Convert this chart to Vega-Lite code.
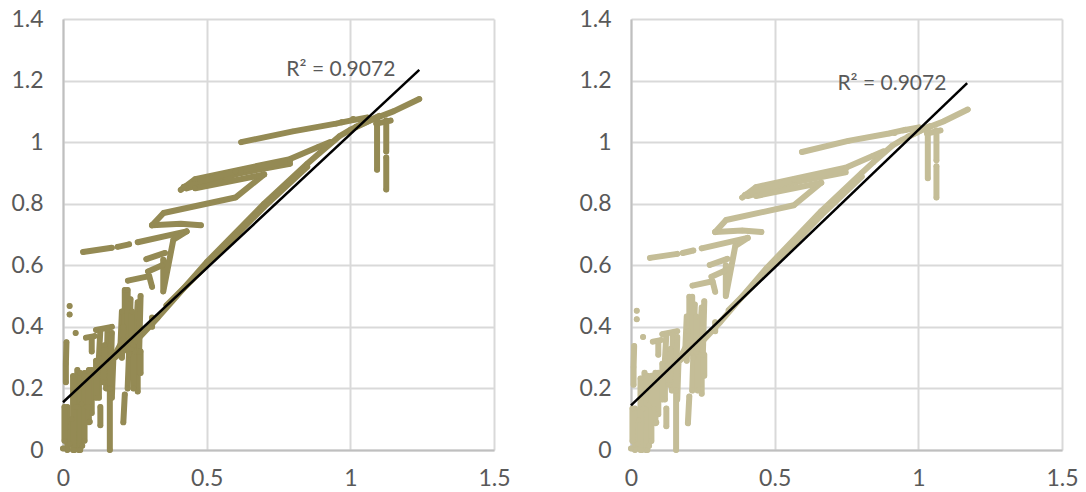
{"$schema":"https://vega.github.io/schema/vega-lite/v6.json","padding":{"left":10,"top":8,"right":0,"bottom":4},"bounds":"flush","spacing":137,"background":"white",
"datasets":{
"L":[
{"s":"a","x":0.62,"y":1.0},{"s":"a","x":0.8,"y":1.035},{"s":"a","x":0.95,"y":1.06},{"s":"a","x":1.0,"y":1.07},{"s":"a","x":1.06,"y":1.08},
{"s":"b","x":0.18,"y":0.3},{"s":"b","x":0.25,"y":0.35},{"s":"b","x":0.33,"y":0.43},{"s":"b","x":0.5,"y":0.61},{"s":"b","x":0.7,"y":0.8},{"s":"b","x":0.85,"y":0.93},{"s":"b","x":0.893,"y":0.965},{"s":"b","x":0.963,"y":1.02},{"s":"b","x":1.0,"y":1.04},{"s":"b","x":1.08,"y":1.075},{"s":"b","x":1.15,"y":1.1},{"s":"b","x":1.24,"y":1.14},
{"s":"b2","x":0.36,"y":0.47},{"s":"b2","x":0.5,"y":0.6},{"s":"b2","x":0.7,"y":0.79},{"s":"b2","x":0.85,"y":0.92},
{"s":"c","x":0.41,"y":0.845},{"s":"c","x":0.46,"y":0.88},{"s":"c","x":0.79,"y":0.945},{"s":"c","x":0.89,"y":0.985},{"s":"c","x":0.93,"y":1.0},
{"s":"d","x":0.43,"y":0.85},{"s":"d","x":0.62,"y":0.9},{"s":"d","x":0.79,"y":0.93},
{"s":"c2","x":0.42,"y":0.855},{"s":"c2","x":0.6,"y":0.905},{"s":"c2","x":0.79,"y":0.94},
{"s":"e1","x":0.31,"y":0.73},{"s":"e1","x":0.41,"y":0.735},{"s":"e1","x":0.48,"y":0.73},
{"s":"e2","x":0.31,"y":0.73},{"s":"e2","x":0.35,"y":0.77},{"s":"e2","x":0.6,"y":0.82},{"s":"e2","x":0.7,"y":0.895},
{"s":"e3","x":0.46,"y":0.85},{"s":"e3","x":0.7,"y":0.895},
{"s":"p1","x":0.07,"y":0.643},{"s":"p1","x":0.17,"y":0.657},{"s":"p2","x":0.19,"y":0.66},{"s":"p2","x":0.23,"y":0.668},{"s":"p3","x":0.26,"y":0.675},{"s":"p3","x":0.43,"y":0.71},
{"s":"f","x":0.43,"y":0.71},{"s":"f","x":0.384,"y":0.683},{"s":"f","x":0.349,"y":0.618},{"s":"f","x":0.349,"y":0.515},
{"s":"g","x":0.29,"y":0.62},{"s":"g","x":0.355,"y":0.64},
{"s":"h","x":0.296,"y":0.58},{"s":"h","x":0.345,"y":0.6},
{"s":"i","x":0.226,"y":0.55},{"s":"i","x":0.3,"y":0.565},{"s":"i","x":0.31,"y":0.53},
{"s":"m","x":1.02,"y":1.05},{"s":"m","x":1.1,"y":1.085},
{"s":"m2","x":1.09,"y":1.06},{"s":"m2","x":1.14,"y":1.07},
{"s":"v1","x":1.093,"y":1.08},{"s":"v1","x":1.093,"y":0.91},
{"s":"v2","x":1.125,"y":1.07},{"s":"v2","x":1.125,"y":0.97},{"s":"v3","x":1.125,"y":0.95},{"s":"v3","x":1.125,"y":0.846},
{"s":"k1","x":0.015,"y":0.14},{"s":"k1","x":0.015,"y":0.0},
{"s":"k2","x":0.01,"y":0.22},{"s":"k2","x":0.01,"y":0.28},{"s":"k2","x":0.012,"y":0.35},
{"s":"k3","x":0.04,"y":0.0},{"s":"k3","x":0.045,"y":0.14},{"s":"k3","x":0.05,"y":0.26},
{"s":"k4","x":0.055,"y":0.0},{"s":"k4","x":0.065,"y":0.15},{"s":"k4","x":0.075,"y":0.25},
{"s":"k5","x":0.025,"y":0.02},{"s":"k5","x":0.03,"y":0.1},
{"s":"k6","x":0.1,"y":0.12},{"s":"k6","x":0.1,"y":0.26},
{"s":"k7","x":0.085,"y":0.14},{"s":"k7","x":0.085,"y":0.24},
{"s":"k8","x":0.125,"y":0.17},{"s":"k8","x":0.125,"y":0.3},{"s":"k8","x":0.13,"y":0.39},
{"s":"k9","x":0.15,"y":0.2},{"s":"k9","x":0.155,"y":0.39},
{"s":"k10","x":0.163,"y":0.0},{"s":"k10","x":0.163,"y":0.2},
{"s":"k11","x":0.14,"y":0.22},{"s":"k11","x":0.145,"y":0.34},
{"s":"k12","x":0.21,"y":0.09},{"s":"k12","x":0.215,"y":0.18},
{"s":"k13","x":0.225,"y":0.2},{"s":"k13","x":0.23,"y":0.32},
{"s":"k14","x":0.26,"y":0.19},{"s":"k14","x":0.26,"y":0.32},
{"s":"k15","x":0.2,"y":0.34},{"s":"k15","x":0.205,"y":0.45},
{"s":"k16","x":0.215,"y":0.33},{"s":"k16","x":0.215,"y":0.52},
{"s":"k17","x":0.23,"y":0.31},{"s":"k17","x":0.235,"y":0.49},
{"s":"k18","x":0.25,"y":0.32},{"s":"k18","x":0.26,"y":0.48},
{"s":"k19","x":0.31,"y":0.4},{"s":"k19","x":0.31,"y":0.43},
{"s":"k20","x":0.08,"y":0.365},{"s":"k20","x":0.11,"y":0.37},
{"s":"k21","x":0.13,"y":0.08},{"s":"k21","x":0.13,"y":0.14},
{"s":"k22","x":0.17,"y":0.17},{"s":"k22","x":0.175,"y":0.29},
{"s":"k23","x":0.115,"y":0.39},{"s":"k23","x":0.17,"y":0.4},
{"s":"k24","x":0.1,"y":0.32},{"s":"k24","x":0.1,"y":0.365},
{"s":"k25","x":0.005,"y":0.03},{"s":"k25","x":0.005,"y":0.14},
{"s":"k26","x":0.035,"y":0.0},{"s":"k26","x":0.035,"y":0.24},
{"s":"k27","x":0.06,"y":0.0},{"s":"k27","x":0.06,"y":0.25},
{"s":"k28","x":0.075,"y":0.03},{"s":"k28","x":0.075,"y":0.24},
{"s":"k29","x":0.09,"y":0.09},{"s":"k29","x":0.09,"y":0.26},
{"s":"k30","x":0.115,"y":0.17},{"s":"k30","x":0.115,"y":0.29},
{"s":"k31","x":0.165,"y":0.2},{"s":"k31","x":0.17,"y":0.38},
{"s":"k32","x":0.175,"y":0.3},{"s":"k32","x":0.21,"y":0.36},
{"s":"k33","x":0.225,"y":0.33},{"s":"k33","x":0.225,"y":0.52},
{"s":"k34","x":0.24,"y":0.33},{"s":"k34","x":0.24,"y":0.45},
{"s":"k35","x":0.265,"y":0.32},{"s":"k35","x":0.27,"y":0.5},
{"s":"k36","x":0.245,"y":0.2},{"s":"k36","x":0.245,"y":0.34},
{"s":"k37","x":0.27,"y":0.25},{"s":"k37","x":0.27,"y":0.32},
{"s":"k38","x":0.205,"y":0.3},{"s":"k38","x":0.21,"y":0.4},
{"s":"q1","x":0.023,"y":0.468},{"s":"q2","x":0.023,"y":0.44},{"s":"q3","x":0.044,"y":0.38},{"s":"q4","x":0.067,"y":0.014},{"s":"q5","x":0.093,"y":0.092},{"s":"q6","x":0.0,"y":0.005},{"s":"q7","x":1.01,"y":1.075},{"s":"q8","x":0.97,"y":1.065}
],
"R":[
{"s":"a","x":0.595,"y":0.968},{"s":"a","x":0.756,"y":1.004},{"s":"a","x":0.898,"y":1.028},{"s":"a","x":0.945,"y":1.038},{"s":"a","x":1.002,"y":1.048},
{"s":"b","x":0.17,"y":0.291},{"s":"b","x":0.236,"y":0.34},{"s":"b","x":0.312,"y":0.417},{"s":"b","x":0.473,"y":0.592},{"s":"b","x":0.662,"y":0.776},{"s":"b","x":0.803,"y":0.9},{"s":"b","x":0.844,"y":0.935},{"s":"b","x":0.91,"y":0.989},{"s":"b","x":0.945,"y":1.008},{"s":"b","x":1.021,"y":1.043},{"s":"b","x":1.087,"y":1.067},{"s":"b","x":1.172,"y":1.106},
{"s":"b2","x":0.34,"y":0.454},{"s":"b2","x":0.473,"y":0.579},{"s":"b2","x":0.662,"y":0.762},{"s":"b2","x":0.803,"y":0.888},
{"s":"c","x":0.387,"y":0.82},{"s":"c","x":0.435,"y":0.854},{"s":"c","x":0.747,"y":0.917},{"s":"c","x":0.841,"y":0.955},{"s":"c","x":0.879,"y":0.97},
{"s":"d","x":0.406,"y":0.825},{"s":"d","x":0.586,"y":0.873},{"s":"d","x":0.747,"y":0.902},
{"s":"c2","x":0.397,"y":0.829},{"s":"c2","x":0.567,"y":0.878},{"s":"c2","x":0.747,"y":0.912},
{"s":"e1","x":0.293,"y":0.708},{"s":"e1","x":0.387,"y":0.713},{"s":"e1","x":0.454,"y":0.708},
{"s":"e2","x":0.293,"y":0.708},{"s":"e2","x":0.331,"y":0.747},{"s":"e2","x":0.567,"y":0.795},{"s":"e2","x":0.662,"y":0.868},
{"s":"e3","x":0.435,"y":0.825},{"s":"e3","x":0.662,"y":0.868},
{"s":"p1","x":0.066,"y":0.624},{"s":"p1","x":0.161,"y":0.637},{"s":"p2","x":0.18,"y":0.64},{"s":"p2","x":0.217,"y":0.648},{"s":"p3","x":0.246,"y":0.655},{"s":"p3","x":0.406,"y":0.689},
{"s":"f","x":0.406,"y":0.689},{"s":"f","x":0.363,"y":0.663},{"s":"f","x":0.33,"y":0.6},{"s":"f","x":0.33,"y":0.5},
{"s":"g","x":0.274,"y":0.601},{"s":"g","x":0.335,"y":0.621},
{"s":"h","x":0.28,"y":0.563},{"s":"h","x":0.326,"y":0.582},
{"s":"i","x":0.214,"y":0.534},{"s":"i","x":0.284,"y":0.548},{"s":"i","x":0.293,"y":0.514},
{"s":"m","x":0.964,"y":1.018},{"s":"m","x":1.04,"y":1.052},
{"s":"m2","x":1.03,"y":1.028},{"s":"m2","x":1.077,"y":1.038},
{"s":"v1","x":1.033,"y":1.048},{"s":"v1","x":1.033,"y":0.883},
{"s":"v2","x":1.063,"y":1.038},{"s":"v2","x":1.063,"y":0.941},{"s":"v3","x":1.063,"y":0.922},{"s":"v3","x":1.063,"y":0.82},
{"s":"k1","x":0.014,"y":0.135},{"s":"k1","x":0.014,"y":0.0},
{"s":"k2","x":0.009,"y":0.212},{"s":"k2","x":0.009,"y":0.27},{"s":"k2","x":0.011,"y":0.338},
{"s":"k3","x":0.038,"y":0.0},{"s":"k3","x":0.043,"y":0.135},{"s":"k3","x":0.047,"y":0.251},
{"s":"k4","x":0.052,"y":0.0},{"s":"k4","x":0.061,"y":0.145},{"s":"k4","x":0.071,"y":0.241},
{"s":"k5","x":0.024,"y":0.02},{"s":"k5","x":0.028,"y":0.097},
{"s":"k6","x":0.095,"y":0.116},{"s":"k6","x":0.095,"y":0.251},
{"s":"k7","x":0.08,"y":0.135},{"s":"k7","x":0.08,"y":0.232},
{"s":"k8","x":0.118,"y":0.164},{"s":"k8","x":0.118,"y":0.29},{"s":"k8","x":0.123,"y":0.376},
{"s":"k9","x":0.142,"y":0.193},{"s":"k9","x":0.146,"y":0.376},
{"s":"k10","x":0.157,"y":0.0},{"s":"k10","x":0.157,"y":0.193},
{"s":"k11","x":0.132,"y":0.212},{"s":"k11","x":0.137,"y":0.328},
{"s":"k12","x":0.198,"y":0.087},{"s":"k12","x":0.203,"y":0.174},
{"s":"k13","x":0.213,"y":0.193},{"s":"k13","x":0.217,"y":0.309},
{"s":"k14","x":0.246,"y":0.183},{"s":"k14","x":0.246,"y":0.309},
{"s":"k15","x":0.189,"y":0.328},{"s":"k15","x":0.194,"y":0.434},
{"s":"k16","x":0.203,"y":0.318},{"s":"k16","x":0.203,"y":0.498},
{"s":"k17","x":0.217,"y":0.299},{"s":"k17","x":0.222,"y":0.473},
{"s":"k18","x":0.236,"y":0.309},{"s":"k18","x":0.246,"y":0.463},
{"s":"k19","x":0.293,"y":0.386},{"s":"k19","x":0.293,"y":0.415},
{"s":"k20","x":0.076,"y":0.352},{"s":"k20","x":0.104,"y":0.357},
{"s":"k21","x":0.123,"y":0.077},{"s":"k21","x":0.123,"y":0.135},
{"s":"k22","x":0.161,"y":0.164},{"s":"k22","x":0.165,"y":0.28},
{"s":"k23","x":0.109,"y":0.376},{"s":"k23","x":0.161,"y":0.386},
{"s":"k24","x":0.095,"y":0.309},{"s":"k24","x":0.095,"y":0.352},
{"s":"k25","x":0.005,"y":0.029},{"s":"k25","x":0.005,"y":0.135},
{"s":"k26","x":0.033,"y":0.0},{"s":"k26","x":0.033,"y":0.232},
{"s":"k27","x":0.057,"y":0.0},{"s":"k27","x":0.057,"y":0.241},
{"s":"k28","x":0.071,"y":0.029},{"s":"k28","x":0.071,"y":0.232},
{"s":"k29","x":0.085,"y":0.087},{"s":"k29","x":0.085,"y":0.251},
{"s":"k30","x":0.109,"y":0.164},{"s":"k30","x":0.109,"y":0.28},
{"s":"k31","x":0.156,"y":0.193},{"s":"k31","x":0.161,"y":0.367},
{"s":"k32","x":0.165,"y":0.29},{"s":"k32","x":0.198,"y":0.347},
{"s":"k33","x":0.213,"y":0.318},{"s":"k33","x":0.213,"y":0.498},
{"s":"k34","x":0.227,"y":0.318},{"s":"k34","x":0.227,"y":0.434},
{"s":"k35","x":0.25,"y":0.309},{"s":"k35","x":0.255,"y":0.483},
{"s":"k36","x":0.232,"y":0.193},{"s":"k36","x":0.232,"y":0.328},
{"s":"k37","x":0.255,"y":0.241},{"s":"k37","x":0.255,"y":0.309},
{"s":"k38","x":0.194,"y":0.29},{"s":"k38","x":0.198,"y":0.386},
{"s":"q1","x":0.02,"y":0.452},{"s":"q2","x":0.02,"y":0.425},{"s":"q3","x":0.042,"y":0.367},{"s":"q4","x":0.063,"y":0.014},{"s":"q5","x":0.088,"y":0.089},{"s":"q6","x":0.0,"y":0.005},{"s":"q7","x":0.955,"y":1.04},{"s":"q8","x":0.917,"y":1.03}
],
"TL":[{"x":0,"y":0.155},{"x":1.24,"y":1.235}],
"TR":[{"x":0,"y":0.145},{"x":1.17,"y":1.192}],
"NL":[{"x":0.967,"y":1.234,"t":"R² = 0.9072"}],
"NR":[{"x":0.908,"y":1.189,"t":"R² = 0.9072"}]
},
"config":{"view":{"stroke":null},
"axis":{"grid":true,"gridColor":"#d9d9d9","gridWidth":2,"domainColor":"#bfbfbf","domainWidth":2,"ticks":false,"labelColor":"#595959","labelFont":"Lato","labelFontSize":23,"title":null,"labelFlush":false,"labelOverlap":false}},
"hconcat":[
{"width":431,"height":431,"layer":[
{"data":{"name":"L"},"mark":{"type":"line","color":"#948a54","strokeWidth":6,"strokeCap":"round","strokeJoin":"round","clip":false},"encoding":{"x":{"field":"x","type":"quantitative","scale":{"domain":[0,1.5],"nice":false},"axis":{"values":[0,0.5,1,1.5],"format":"~g","labelPadding":17}},"y":{"field":"y","type":"quantitative","scale":{"domain":[0,1.4],"nice":false},"axis":{"values":[0,0.2,0.4,0.6,0.8,1,1.2,1.4],"format":"~g","labelPadding":20}},"detail":{"field":"s"}}},
{"data":{"name":"L"},"mark":{"type":"circle","color":"#948a54","size":30,"opacity":1},"encoding":{"x":{"field":"x","type":"quantitative"},"y":{"field":"y","type":"quantitative"}}},
{"data":{"name":"TL"},"mark":{"type":"line","color":"#000000","strokeWidth":2.5},"encoding":{"x":{"field":"x","type":"quantitative"},"y":{"field":"y","type":"quantitative"}}},
{"data":{"name":"NL"},"mark":{"type":"text","color":"#595959","font":"Lato","fontSize":21},"encoding":{"x":{"field":"x","type":"quantitative"},"y":{"field":"y","type":"quantitative"},"text":{"field":"t"}}}
]},
{"width":431,"height":431,"layer":[
{"data":{"name":"R"},"mark":{"type":"line","color":"#c4bd97","strokeWidth":6,"strokeCap":"round","strokeJoin":"round","clip":false},"encoding":{"x":{"field":"x","type":"quantitative","scale":{"domain":[0,1.5],"nice":false},"axis":{"values":[0,0.5,1,1.5],"format":"~g","labelPadding":17}},"y":{"field":"y","type":"quantitative","scale":{"domain":[0,1.4],"nice":false},"axis":{"values":[0,0.2,0.4,0.6,0.8,1,1.2,1.4],"format":"~g","labelPadding":20}},"detail":{"field":"s"}}},
{"data":{"name":"R"},"mark":{"type":"circle","color":"#c4bd97","size":30,"opacity":1},"encoding":{"x":{"field":"x","type":"quantitative"},"y":{"field":"y","type":"quantitative"}}},
{"data":{"name":"TR"},"mark":{"type":"line","color":"#000000","strokeWidth":2.5},"encoding":{"x":{"field":"x","type":"quantitative"},"y":{"field":"y","type":"quantitative"}}},
{"data":{"name":"NR"},"mark":{"type":"text","color":"#595959","font":"Lato","fontSize":21},"encoding":{"x":{"field":"x","type":"quantitative"},"y":{"field":"y","type":"quantitative"},"text":{"field":"t"}}}
]}
]}
